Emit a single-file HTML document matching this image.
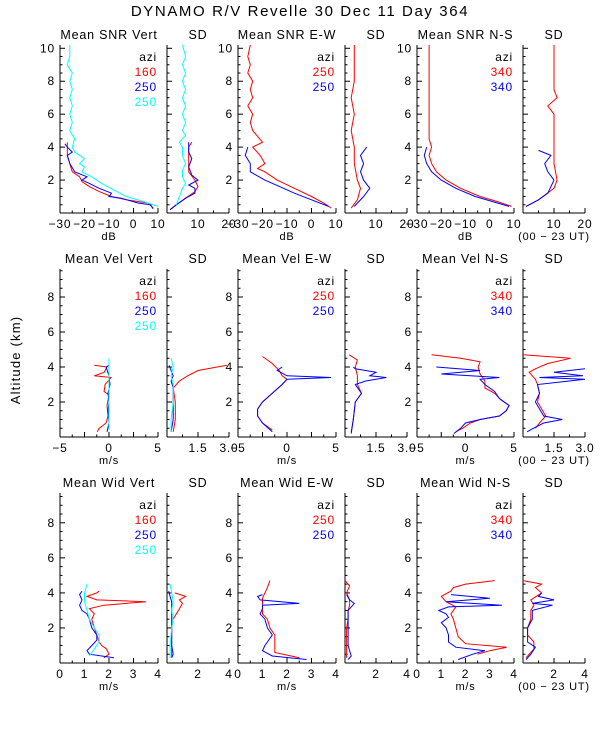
<!DOCTYPE html>
<html><head><meta charset="utf-8">
<style>
html,body{margin:0;padding:0;background:#fff;}
svg{display:block;font-family:"Liberation Sans",sans-serif;}
svg text{letter-spacing:0.8px;}
</style></head>
<body>
<svg id="chart" width="600" height="750" viewBox="0 0 600 750" xmlns="http://www.w3.org/2000/svg">
<rect width="600" height="750" fill="#fff"/>
<text x="300" y="16" text-anchor="middle" font-size="15" style="letter-spacing:1.6px">DYNAMO R/V Revelle  30 Dec 11 Day 364</text>
<text transform="translate(20,360) rotate(-90)" text-anchor="middle" font-size="13" style="letter-spacing:1.2px">Altitude (km)</text>
</svg>
<script>
// ---- Row 1: SNR (dB) ----
const snrVertRedAlt=[0.3,0.6,0.8,1.0,1.3,1.6,1.9,2.2,2.5,3.0,3.5,4.0,4.3];
const snrVertRedVal=[8,6,-3,-9,-14,-18,-21,-22,-25,-26,-27,-27,-27];
const snrVertBlueAlt=[0.25,0.5,0.6,0.9,1.0,1.2,1.5,1.8,2.0,2.2,2.5,3.0,3.5,3.7,4.0,4.2];
const snrVertBlueVal=[8,7,2,-5,-10,-9,-14,-18,-21,-19,-24,-26,-27,-25,-27,-28];
const snrVertCyanAlt=[0.4,0.7,1.0,1.4,1.8,2.2,2.5,2.8,3.0,3.3,3.7,4.0,4.5,5,5.5,6,6.5,7,7.5,8,8.5,9,9.5,10.2];
const snrVertCyanVal=[10,4,-3,-8,-13,-17,-21,-20,-22,-20,-24,-25,-24,-26,-25,-26,-25,-26,-25,-26,-25,-27,-26,-26];
const sdVertRedAlt=[0.2,0.5,0.9,1.3,1.6,2.0,2.5,3.0,3.5,4.0,4.3];
const sdVertRedVal=[1,3,6,9,10,9,7,7,7,7,8];
const sdVertBlueAlt=[0.2,0.5,0.9,1.2,1.5,1.7,2.0,2.3,2.8,3.3,3.7,4.0,4.3];
const sdVertBlueVal=[1,3,6,9,9,7,10,8,7,8,7,7,7];
const sdVertCyanAlt=[0.5,1,1.5,1.8,2.2,2.6,3.0,3.5,4.0,4.3,4.7,5,5.5,6,6.5,7,7.5,8,8.5,9,9.5,10.2];
const sdVertCyanVal=[3,4,5,6,5,5,6,5,5,4,6,5,6,5,6,5,6,5,6,5,6,5];
const snrEWRedAlt=[0.3,0.6,1.0,1.5,2.0,2.5,2.7,3.0,3.5,4.0,4.3,5,5.5,6,6.5,7,7.5,8,8.5,9,9.5,10.2];
const snrEWRedVal=[8,5,0,-7,-14,-19,-22,-19,-21,-24,-20,-24,-25,-24,-26,-24,-25,-24,-26,-25,-26,-25];
const snrEWBlueAlt=[0.4,0.8,1.2,1.6,2.0,2.5,3.0,3.5,4.0];
const snrEWBlueVal=[7,0,-7,-13,-19,-25,-25,-27,-26];
const sdEWRedAlt=[0.3,0.8,1.5,2,3,4,5,6,7,8,9,10.2];
const sdEWRedVal=[2,4,5,4,3,3,2,3,2,3,3,3];
const sdEWBlueAlt=[0.4,1,1.5,2,2.5,3,3.5,4];
const sdEWBlueVal=[3,6,8,6,5,6,5,7];
const snrNSRedAlt=[0.4,0.7,1,1.5,2,2.5,3,3.5,4,4.5,5,6,7,8,9,10.2];
const snrNSRedVal=[9,3,-4,-12,-18,-22,-24,-25,-24,-25,-25,-25,-25,-25,-25,-25];
const snrNSBlueAlt=[0.4,0.7,1,1.5,2,2.5,3,3.5,4];
const snrNSBlueVal=[8,1,-6,-14,-20,-24,-26,-27,-26];
const sdNSRedAlt=[0.4,0.8,1.5,2,3,4,5,6,6.5,7,7.5,8,9,10.2];
const sdNSRedVal=[1,5,10,11,10,10,10,10,8,11,10,10,10,10];
const sdNSBlueAlt=[0.4,0.8,1.2,1.6,2,2.5,3,3.5,3.8];
const sdNSBlueVal=[1,5,8,9,10,8,7,9,5];
// ---- Row 2: Velocity (m/s) ----
const velVertRedAlt=[0.3,0.5,0.8,1.2,1.8,2.4,2.6,3,3.4,3.5,3.7,4.0,4.1];
const velVertRedVal=[-1.2,-1.0,-0.3,-0.1,-0.2,0,-0.5,-0.4,0.2,-1.5,-0.5,-0.2,-1.5];
const velVertBlueAlt=[0.3,0.8,1.5,2.0,2.5,3.0,3.5,4.0,4.1];
const velVertBlueVal=[-0.2,0,-0.1,0,-0.1,0.1,0,-0.3,0];
const velVertCyanAlt=[0.4,1,1.5,2,2.5,3,3.5,4,4.5];
const velVertCyanVal=[0,0,0,0,0,0,0,0,0];
const sdVelVertRedAlt=[0.3,1,2,2.8,3.2,3.5,3.8,4.1];
const sdVelVertRedVal=[0.3,0.4,0.4,0.3,0.6,1.0,1.5,2.9];
const sdVelVertBlueAlt=[0.3,1,2,2.8,3.2,3.5,3.8,4.1];
const sdVelVertBlueVal=[0.2,0.3,0.3,0.3,0.2,0.3,0.2,0.1];
const sdVelVertCyanAlt=[0.3,1,2,3,3.5,4,4.5];
const sdVelVertCyanVal=[0.2,0.2,0.3,0.3,0.2,0.3,0.2];
const velEWRedAlt=[0.4,0.8,1.2,1.6,2,2.5,3,3.3,3.5,3.8,4.2,4.6];
const velEWRedVal=[-1.5,-2.5,-3,-3,-2.5,-1.5,-0.5,0,-0.5,-0.8,-1.5,-2.5];
const velEWBlueAlt=[0.3,0.8,1.2,1.6,2,2.5,3,3.3,3.4,3.5,3.8,4];
const velEWBlueVal=[-1.5,-2.5,-3,-3,-2.5,-1.5,-0.5,0,4.5,0,-1,-0.5];
const sdVelEWRedAlt=[0.3,1,2,2.5,3,3.3,3.5,4,4.4,4.7];
const sdVelEWRedVal=[0.3,0.4,0.5,0.8,0.6,0.6,0.6,0.5,0.6,0.2];
const sdVelEWBlueAlt=[0.2,1,2,2.5,3,3.2,3.4,3.5,3.7,3.9,4.0];
const sdVelEWBlueVal=[0.3,0.4,0.5,0.8,0.5,1.0,2.0,1.2,1.5,0.5,0.4];
const velNSRedAlt=[0.3,0.5,0.8,1.0,1.2,1.5,1.8,2.1,2.5,2.8,3.2,3.6,4.0,4.3,4.5,4.7];
const velNSRedVal=[-1,-0.3,0.5,1.5,3.5,4.2,4.5,3.7,3,2,2,1.5,1.3,1.5,-0.5,-3.5];
const velNSBlueAlt=[0.2,0.5,0.8,1.0,1.2,1.5,1.8,2.2,2.6,3.0,3.3,3.4,3.6,3.8,4.0];
const velNSBlueVal=[-1.2,-0.5,0,1.5,3.5,4.2,4.5,3.5,3,2,1.5,3.5,-2.5,1.5,-3];
const sdVelNSRedAlt=[0.5,0.8,1.2,1.6,2,2.5,3,3.3,3.7,3.9,4.2,4.5,4.7];
const sdVelNSRedVal=[0.6,0.8,1.1,0.9,0.7,0.8,0.7,0.6,0.3,0.6,1.2,2.3,0];
const sdVelNSBlueAlt=[0.3,0.5,0.8,1.0,1.2,1.6,2,2.5,3,3.3,3.4,3.5,3.7,3.9];
const sdVelNSBlueVal=[0.2,0.5,1.0,1.9,1.0,0.8,0.6,0.8,0.7,3.0,0.8,2.9,1.5,3.0];
// ---- Row 3: Width (m/s) ----
const widVertRedAlt=[0.3,0.5,0.8,1,1.2,1.6,2,2.5,2.8,3.1,3.3,3.5,3.6,3.8,4.0,4.1];
const widVertRedVal=[1.8,2.0,1.9,1.7,1.6,1.5,1.4,1.3,1.4,1.2,1.8,3.5,1.5,1.1,1.5,1.6];
const widVertBlueAlt=[0.3,0.5,0.7,1,1.3,1.6,2,2.5,2.8,3,3.3,3.6,3.9,4.1];
const widVertBlueVal=[2.2,1.2,1.1,1.3,1.5,1.5,1.3,1.2,1.1,0.9,0.8,0.9,0.8,0.9];
const widVertCyanAlt=[0.4,0.8,1.2,1.6,2.0,2.5,3,3.5,4,4.5];
const widVertCyanVal=[1.2,1.4,1.6,1.6,1.4,1.2,1.1,1.0,1.0,1.1];
const sdWidVertRedAlt=[0.3,1,2,2.5,2.8,3.1,3.4,3.6,3.8,4.0];
const sdWidVertRedVal=[0.3,0.3,0.3,0.4,0.6,0.8,1.0,0.8,1.2,0.5];
const sdWidVertBlueAlt=[0.3,0.5,1,2,3,3.5,3.8,4.1];
const sdWidVertBlueVal=[0.3,0.4,0.3,0.3,0.3,0.3,0.2,0.1];
const sdWidVertCyanAlt=[0.3,1,2,2.5,3,3.5,4,4.5];
const sdWidVertCyanVal=[0.2,0.2,0.3,0.4,0.3,0.4,0.3,0.2];
const widEWRedAlt=[0.3,0.6,1,1.6,2,2.5,2.8,3.1,3.4,3.7,4,4.3,4.7];
const widEWRedVal=[2.5,1.5,1.5,1.5,1.3,1.2,1.0,1.0,1.0,1.0,1.1,1.2,1.3];
const widEWBlueAlt=[0.2,0.4,0.7,1,1.6,2,2.5,2.8,3.1,3.3,3.4,3.6,3.8,3.9];
const widEWBlueVal=[2.8,1.4,1.0,1.1,1.4,1.2,1.1,0.9,1.0,1.0,2.5,0.9,0.8,1.0];
const sdWidEWRedAlt=[0.3,1,2,2.5,3,3.3,3.6,4,4.4,4.7];
const sdWidEWRedVal=[0.1,0.1,0.1,0.2,0.2,0.3,0.3,0.1,0.3,0];
const sdWidEWBlueAlt=[0.2,0.4,1,2,3,3.3,3.4,3.6,3.9];
const sdWidEWBlueVal=[0.2,0.4,0.2,0.2,0.2,0.5,0.6,0.3,0.1];
const widNSRedAlt=[0.5,0.7,0.9,1.1,1.5,2,2.5,2.8,3.2,3.5,3.8,4.1,4.3,4.5,4.7];
const widNSRedVal=[2.5,3,3.7,2.0,1.7,1.6,1.5,1.4,1.6,1.2,1.0,1.4,1.5,2.0,3.2];
const widNSBlueAlt=[0.2,0.5,0.7,0.9,1.2,1.6,2,2.3,2.6,2.8,3.0,3.2,3.3,3.5,3.7,3.9];
const widNSBlueVal=[1.7,2.3,2.8,1.6,1.3,1.3,1.2,1.0,1.3,1.2,0.9,1.3,3.5,1.2,3.0,1.4];
const sdWidNSRedAlt=[0.3,0.8,1.2,1.6,2,2.5,3,3.3,3.6,4.0,4.3,4.5,4.7];
const sdWidNSRedVal=[0.2,0.7,0.7,0.3,0.3,0.5,0.5,0.7,0.5,1.2,0.8,1.2,0];
const sdWidNSBlueAlt=[0.2,0.5,0.9,1.2,2,2.5,3,3.3,3.4,3.6,3.8,4.0];
const sdWidNSBlueVal=[0.2,0.5,0.8,0.3,0.3,0.6,0.6,1.9,0.6,2.0,1.0,1.2];

const snrTicks=[-30,-20,-10,0,10], sdSnrTicks=[10,20];
const velTicks=[-5,0,5], sdVelTicks=["1.5","3.0"];
const widTicks=[0,1,2,3,4], sdWidTicks=[2,4];
const row1YTicks=[2,4,6,8,10], rowYTicks=[2,4,6,8];
const legVert=["160","250","250"], legEW=["250","250"], legNS=["340","340"];

const NS="http://www.w3.org/2000/svg";
const svg=document.getElementById('chart');
const RED="#ff0000",BLUE="#0000ff",CYAN="#00ffff";
function mk(tag,attrs,parent){const e=document.createElementNS(NS,tag);for(const k in attrs)e.setAttribute(k,attrs[k]);(parent||svg).appendChild(e);return e;}

const rows=[
 {top:45,bot:213,ymax:10.2,ticks:row1YTicks,unit:"dB",titles:["Mean SNR Vert","SD","Mean SNR E-W","SD","Mean SNR N-S","SD"],
  mainRange:[-30,10],mainTicks:snrTicks,sdRange:[0,20],sdTicks:sdSnrTicks,
  series:[
   [[snrVertRedAlt,snrVertRedVal,RED],[snrVertBlueAlt,snrVertBlueVal,BLUE],[snrVertCyanAlt,snrVertCyanVal,CYAN]],
   [[sdVertRedAlt,sdVertRedVal,RED],[sdVertBlueAlt,sdVertBlueVal,BLUE],[sdVertCyanAlt,sdVertCyanVal,CYAN]],
   [[snrEWRedAlt,snrEWRedVal,RED],[snrEWBlueAlt,snrEWBlueVal,BLUE]],
   [[sdEWRedAlt,sdEWRedVal,RED],[sdEWBlueAlt,sdEWBlueVal,BLUE]],
   [[snrNSRedAlt,snrNSRedVal,RED],[snrNSBlueAlt,snrNSBlueVal,BLUE]],
   [[sdNSRedAlt,sdNSRedVal,RED],[sdNSBlueAlt,sdNSBlueVal,BLUE]]]},
 {top:269,bot:437,ymax:9.6,ticks:rowYTicks,unit:"m/s",titles:["Mean Vel Vert","SD","Mean Vel E-W","SD","Mean Vel N-S","SD"],
  mainRange:[-5,5],mainTicks:velTicks,sdRange:[0,3],sdTicks:sdVelTicks,
  series:[
   [[velVertRedAlt,velVertRedVal,RED],[velVertBlueAlt,velVertBlueVal,BLUE],[velVertCyanAlt,velVertCyanVal,CYAN]],
   [[sdVelVertRedAlt,sdVelVertRedVal,RED],[sdVelVertBlueAlt,sdVelVertBlueVal,BLUE],[sdVelVertCyanAlt,sdVelVertCyanVal,CYAN]],
   [[velEWRedAlt,velEWRedVal,RED],[velEWBlueAlt,velEWBlueVal,BLUE]],
   [[sdVelEWRedAlt,sdVelEWRedVal,RED],[sdVelEWBlueAlt,sdVelEWBlueVal,BLUE]],
   [[velNSRedAlt,velNSRedVal,RED],[velNSBlueAlt,velNSBlueVal,BLUE]],
   [[sdVelNSRedAlt,sdVelNSRedVal,RED],[sdVelNSBlueAlt,sdVelNSBlueVal,BLUE]]]},
 {top:493,bot:663,ymax:9.7,ticks:rowYTicks,unit:"m/s",titles:["Mean Wid Vert","SD","Mean Wid E-W","SD","Mean Wid N-S","SD"],
  mainRange:[0,4],mainTicks:widTicks,sdRange:[0,4],sdTicks:sdWidTicks,
  series:[
   [[widVertRedAlt,widVertRedVal,RED],[widVertBlueAlt,widVertBlueVal,BLUE],[widVertCyanAlt,widVertCyanVal,CYAN]],
   [[sdWidVertRedAlt,sdWidVertRedVal,RED],[sdWidVertBlueAlt,sdWidVertBlueVal,BLUE],[sdWidVertCyanAlt,sdWidVertCyanVal,CYAN]],
   [[widEWRedAlt,widEWRedVal,RED],[widEWBlueAlt,widEWBlueVal,BLUE]],
   [[sdWidEWRedAlt,sdWidEWRedVal,RED],[sdWidEWBlueAlt,sdWidEWBlueVal,BLUE]],
   [[widNSRedAlt,widNSRedVal,RED],[widNSBlueAlt,widNSBlueVal,BLUE]],
   [[sdWidNSRedAlt,sdWidNSRedVal,RED],[sdWidNSBlueAlt,sdWidNSBlueVal,BLUE]]]}
];
const cols=[[60,158],[167,229],[238,336],[345,407],[417,514],[523,585]];
const legends=[legVert,null,legEW,null,legNS,null];
const legColors=[[RED,BLUE,CYAN],null,[RED,BLUE],null,[RED,BLUE],null];

rows.forEach((row,ri)=>{
 const yS=a=>row.bot-(a/row.ymax)*(row.bot-row.top);
 cols.forEach((c,ci)=>{
  const isSD=ci%2===1;
  const rng=isSD?row.sdRange:row.mainRange;
  const xS=v=>c[0]+(v-rng[0])/(rng[1]-rng[0])*(c[1]-c[0]);
  const g=mk('g',{});
  
  
  const t=mk('text',{x:(c[0]+c[1])/2,y:row.top-6,'text-anchor':'middle','font-size':12.5},g);
  t.textContent=row.titles[ci];
  
  
  mk('line',{x1:c[0],y1:row.top,x2:c[0],y2:row.bot,stroke:'#000','stroke-width':1},g);
  mk('line',{x1:c[0],y1:row.bot,x2:c[1],y2:row.bot,stroke:'#000','stroke-width':1},g);
  for(let a=0.5;a<=row.ymax;a+=0.5){
   const major=Math.abs(a%2)<1e-6;
   const y=yS(a);
   mk('line',{x1:c[0],y1:y,x2:c[0]+(major?5:2.5),y2:y,stroke:'#000','stroke-width':1},g);
  }
  if(!isSD){
   row.ticks.forEach(tv=>{
    const tl=mk('text',{x:c[0]-5,y:yS(tv)+4,'text-anchor':'end','font-size':12},g);
    tl.textContent=tv;
    
    
   });
  }
  const xt=isSD?row.sdTicks:row.mainTicks;
  const step=isSD?(rng[1]-rng[0])/4:(rng[1]-rng[0])/8;
  for(let v=rng[0];v<=rng[1]+1e-6;v+=step){
   const major=Math.abs(((v-rng[0])/(step*2))%1)<1e-6;
   mk('line',{x1:xS(v),y1:row.bot,x2:xS(v),y2:row.bot-(major?5:2.5),stroke:'#000','stroke-width':1},g);
  }
  xt.forEach(tv=>{
   const tl=mk('text',{x:xS(parseFloat(tv)),y:row.bot+15,'text-anchor':'middle','font-size':12},g);
   tl.textContent=String(tv).replace('-','\u2212');
   
   
  });
  if(!isSD){
   const u=mk('text',{x:(c[0]+c[1])/2,y:row.bot+27,'text-anchor':'middle','font-size':11},g);
   u.textContent=row.unit;
   
   
  }
  if(ci===5){
   const ut=mk('text',{x:(c[0]+c[1])/2,y:row.bot+27,'text-anchor':'middle','font-size':11},g);
   ut.textContent='(00 \u2212 23 UT)';
   
   
  }
  if(legends[ci]){
   const lx=c[1]-1;
   const lz=mk('text',{x:lx,y:row.top+16,'text-anchor':'end','font-size':12},g);
   lz.textContent='azi';
   
   
   legends[ci].forEach((lab,li)=>{
    const le=mk('text',{x:lx,y:row.top+31+li*15,'text-anchor':'end','font-size':12,fill:legColors[ci][li]},g);
    le.textContent=lab;
    
    
   });
  }
  row.series[ci].forEach(s=>{
   const [alts,vals,col]=s;
   const pts=alts.map((a,i)=>xS(vals[i]).toFixed(1)+','+yS(a).toFixed(1)).join(' ');
   const pl=mk('polyline',{points:pts,fill:'none',stroke:col,'stroke-width':1},g);
   
   
  });
 });
});
</script>
</body></html>
